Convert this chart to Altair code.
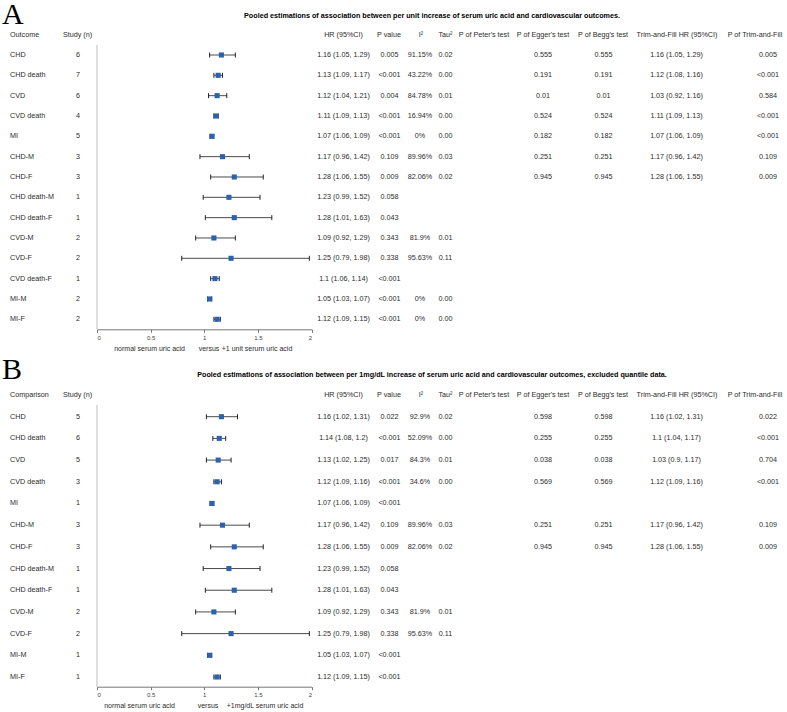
import altair as alt
import pandas as pd

# ---------------- Panel A: per unit increase of serum uric acid ----------------
a_outcome = ["CHD", "CHD death", "CVD", "CVD death", "MI", "CHD-M", "CHD-F",
             "CHD death-M", "CHD death-F", "CVD-M", "CVD-F", "CVD death-F", "MI-M", "MI-F"]
a_n = [6, 7, 6, 4, 5, 3, 3, 1, 1, 2, 2, 1, 2, 2]
a_hr = [1.16, 1.13, 1.12, 1.11, 1.07, 1.17, 1.28, 1.23, 1.28, 1.09, 1.25, 1.1, 1.05, 1.12]
a_lo = [1.05, 1.09, 1.04, 1.09, 1.06, 0.96, 1.06, 0.99, 1.01, 0.92, 0.79, 1.06, 1.03, 1.09]
a_hi = [1.29, 1.17, 1.21, 1.13, 1.09, 1.42, 1.55, 1.52, 1.63, 1.29, 1.98, 1.14, 1.07, 1.15]
a_p = ["0.005", "<0.001", "0.004", "<0.001", "<0.001", "0.109", "0.009", "0.058", "0.043",
       "0.343", "0.338", "<0.001", "<0.001", "<0.001"]
a_i2 = ["91.15%", "43.22%", "84.78%", "16.94%", "0%", "89.96%", "82.06%", "", "",
        "81.9%", "95.63%", "", "0%", "0%"]
a_tau2 = ["0.02", "0.00", "0.01", "0.00", "0.00", "0.03", "0.02", "", "",
          "0.01", "0.11", "", "0.00", "0.00"]
a_peters = [""] * 14
a_egger = ["0.555", "0.191", "0.01", "0.524", "0.182", "0.251", "0.945"] + [""] * 7
a_begg = ["0.555", "0.191", "0.01", "0.524", "0.182", "0.251", "0.945"] + [""] * 7
a_tf_hr = ["1.16 (1.05, 1.29)", "1.12 (1.08, 1.16)", "1.03 (0.92, 1.16)", "1.11 (1.09, 1.13)",
           "1.07 (1.06, 1.09)", "1.17 (0.96, 1.42)", "1.28 (1.06, 1.55)"] + [""] * 7
a_tf_p = ["0.005", "<0.001", "0.584", "<0.001", "<0.001", "0.109", "0.009"] + [""] * 7

# ---------------- Panel B: per 1 mg/dL increase, quantile data excluded ----------------
b_outcome = ["CHD", "CHD death", "CVD", "CVD death", "MI", "CHD-M", "CHD-F",
             "CHD death-M", "CHD death-F", "CVD-M", "CVD-F", "MI-M", "MI-F"]
b_n = [5, 6, 5, 3, 1, 3, 3, 1, 1, 2, 2, 1, 1]
b_hr = [1.16, 1.14, 1.13, 1.12, 1.07, 1.17, 1.28, 1.23, 1.28, 1.09, 1.25, 1.05, 1.12]
b_lo = [1.02, 1.08, 1.02, 1.09, 1.06, 0.96, 1.06, 0.99, 1.01, 0.92, 0.79, 1.03, 1.09]
b_hi = [1.31, 1.2, 1.25, 1.16, 1.09, 1.42, 1.55, 1.52, 1.63, 1.29, 1.98, 1.07, 1.15]
b_p = ["0.022", "<0.001", "0.017", "<0.001", "<0.001", "0.109", "0.009", "0.058", "0.043",
       "0.343", "0.338", "<0.001", "<0.001"]
b_i2 = ["92.9%", "52.09%", "84.3%", "34.6%", "", "89.96%", "82.06%", "", "",
        "81.9%", "95.63%", "", ""]
b_tau2 = ["0.02", "0.00", "0.01", "0.00", "", "0.03", "0.02", "", "",
          "0.01", "0.11", "", ""]
b_peters = [""] * 13
b_egger = ["0.598", "0.255", "0.038", "0.569", "", "0.251", "0.945"] + [""] * 6
b_begg = ["0.598", "0.255", "0.038", "0.569", "", "0.251", "0.945"] + [""] * 6
b_tf_hr = ["1.16 (1.02, 1.31)", "1.1 (1.04, 1.17)", "1.03 (0.9, 1.17)", "1.12 (1.09, 1.16)", "",
           "1.17 (0.96, 1.42)", "1.28 (1.06, 1.55)"] + [""] * 6
b_tf_p = ["0.022", "<0.001", "0.704", "<0.001", "", "0.109", "0.009"] + [""] * 6

x_ticks = [0, 0.5, 1, 1.5, 2]

# ---------------- styling / layout ----------------
W, H = 787, 712
FONT = "Liberation Sans"
FS = 7.2
TXT = "#2b2b2b"
BLUE = "#2b62ad"
CAP = "M0,-1L0,1"
X_RANGE = [97, 311.5]

# (field, header centre x, value x, alignment)
COLUMNS = [
    ("name", 10, 10, "left"),
    ("n", 77.5, 78, "center"),
    ("hr_txt", 343.5, 343.5, "center"),
    ("p", 389, 389.5, "center"),
    ("i2", 421, 420, "center"),
    ("tau2", 445.5, 445.5, "center"),
    ("peters", 484, 484, "center"),
    ("egger", 543, 543, "center"),
    ("begg", 603, 603.5, "center"),
    ("tf_hr", 677, 676.5, "center"),
    ("tf_p", 755, 768, "center"),
]


def fmt(v):
    return f"{v:g}"


def make_frame(names, n, hr, lo, hi, p, i2, tau2, peters, egger, begg, tf_hr, tf_p):
    return pd.DataFrame({
        "row": list(range(len(names))),
        "name": names,
        "n": [str(k) for k in n],
        "hr": hr, "lo": lo, "hi": hi,
        "hr_txt": [f"{fmt(h)} ({fmt(l)}, {fmt(u)})" for h, l, u in zip(hr, lo, hi)],
        "p": p, "i2": i2, "tau2": tau2, "peters": peters,
        "egger": egger, "begg": begg, "tf_hr": tf_hr, "tf_p": tf_p,
    })


def label(text, x, y, size=FS, weight="normal", align="center", font=FONT,
          color=TXT, baseline="middle"):
    return alt.Chart(pd.DataFrame({"t": [text]})).mark_text(
        font=font, fontSize=size, fontWeight=weight, align=align,
        baseline=baseline, color=color
    ).encode(text="t:N", x=alt.value(x), y=alt.value(y))


def panel(df, letter, letter_y, title, title_y, head_y, first_col, row_top, row_bottom,
          axis_y, line_top, sub_y, sub_left, sub_mid, sub_right, contrast):
    n_rows = len(df)
    yscale = alt.Scale(domain=[0, n_rows - 1], range=[row_top, row_bottom])
    Y = alt.Y("row:Q", scale=yscale, axis=None)
    xscale = alt.Scale(domain=[0, 2], range=X_RANGE)
    xaxis = alt.Axis(values=x_ticks, format="~g", orient="bottom", offset=axis_y - H,
                     title=None, grid=False, labelFont=FONT, labelFontSize=6,
                     labelColor="#444", labelPadding=2, tickSize=3, tickColor="#777",
                     domainColor="#777", domainWidth=1, tickWidth=1)

    def X(field):
        return alt.X(field, type="quantitative", scale=xscale, axis=xaxis)

    base = alt.Chart(df)
    vline = alt.Chart(pd.DataFrame({"v": [0]})).mark_rule(
        color="#c8c8c8", strokeWidth=1.2
    ).encode(x=X("v"), y=alt.value(line_top), y2=alt.value(axis_y))
    bars = base.mark_rule(color="#4a4a4a", strokeWidth=1).encode(
        x=X("lo"), x2="hi:Q", y=Y)
    cap_lo = base.mark_point(shape=CAP, size=25, filled=False, color="#222",
                             strokeWidth=1, opacity=1).encode(x=X("lo"), y=Y)
    cap_hi = base.mark_point(shape=CAP, size=25, filled=False, color="#222",
                             strokeWidth=1, opacity=1).encode(x=X("hi"), y=Y)
    squares = base.mark_square(size=26, color=BLUE, opacity=1).encode(x=X("hr"), y=Y)

    headers = [first_col, "Study (n)", "HR (95%CI)", "P value", "I\u00b2", "Tau\u00b2",
               "P of Peter's test", "P of Egger's test", "P of Begg's test",
               "Trim-and-Fill HR (95%CI)", "P of Trim-and-Fill"]

    layers = [vline, bars, cap_lo, cap_hi, squares]
    for (field, hx, vx, al), head in zip(COLUMNS, headers):
        layers.append(label(head, hx, head_y, align=al))
        layers.append(base.mark_text(font=FONT, fontSize=FS, align=al, color=TXT).encode(
            text=f"{field}:N", x=alt.value(vx), y=Y))

    layers.append(label(letter, 2, letter_y, size=30, font="Liberation Serif",
                        align="left", color="#000", baseline="alphabetic"))
    layers.append(label(title, 432, title_y, weight="bold", color="#000"))
    layers.append(label("normal serum uric acid", sub_left, sub_y, size=7, align="right"))
    layers.append(label("versus", sub_mid, sub_y, size=7))
    layers.append(label(contrast, sub_right, sub_y, size=7, align="left"))
    return alt.layer(*layers)


df_a = make_frame(a_outcome, a_n, a_hr, a_lo, a_hi, a_p, a_i2, a_tau2, a_peters,
                  a_egger, a_begg, a_tf_hr, a_tf_p)
df_b = make_frame(b_outcome, b_n, b_hr, b_lo, b_hi, b_p, b_i2, b_tau2, b_peters,
                  b_egger, b_begg, b_tf_hr, b_tf_p)

panel_a = panel(
    df_a, "A", 24,
    "Pooled estimations of association between per unit increase of serum uric acid "
    "and cardiovascular outcomes.",
    16, 34.5, "Outcome", 55, 319.3, 329.3, 45, 348.5, 185, 209, 221.7,
    "+1 unit serum uric acid")
panel_b = panel(
    df_b, "B", 379,
    "Pooled estimations of association between per 1mg/dL increase of serum uric acid "
    "and cardiovascular outcomes, excluded quantile data.",
    375, 395, "Comparison", 416.7, 677, 686.7, 405, 706, 175, 208, 226.7,
    "+1mg/dL serum uric acid")

chart = alt.layer(panel_a, panel_b).resolve_scale(
    x="independent", y="independent"
).properties(
    width=W, height=H, padding=0, autosize=alt.AutoSizeParams(type="none"),
    background="white"
).configure_view(stroke=None)

chart.save("out.html", embed_options={"renderer": "svg", "actions": False})
